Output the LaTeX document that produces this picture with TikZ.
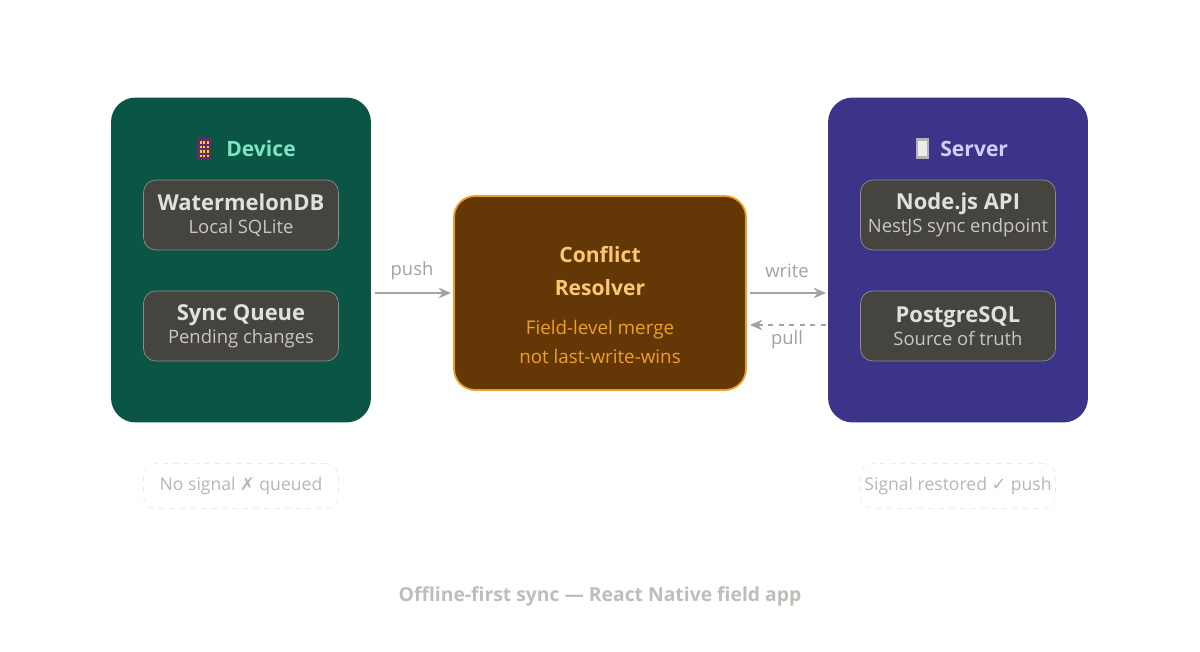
\documentclass[tikz,border=0pt]{standalone}
\usepackage{fontspec}
\setmainfont{Open Sans}
\newfontfamily\symfont{DejaVu Sans}
\usetikzlibrary{arrows.meta, positioning}
\definecolor{devfill}{HTML}{0B5545}
\definecolor{devtext}{HTML}{7FE3C3}
\definecolor{srvfill}{HTML}{3C3489}
\definecolor{srvtext}{HTML}{D2CEF6}
\definecolor{cellfill}{HTML}{45443F}
\definecolor{celledge}{HTML}{8E8D86}
\definecolor{celltext}{HTML}{E2E0DA}
\definecolor{cellsub}{HTML}{C9C7C0}
\definecolor{resfill}{HTML}{633806}
\definecolor{resedge}{HTML}{EF9F27}
\definecolor{restext}{HTML}{FAC775}
\definecolor{gr}{HTML}{A3A29C}
\definecolor{note}{HTML}{B8B6AF}
\definecolor{notedge}{HTML}{EDEBE6}

\begin{document}
\begin{tikzpicture}[
            x = 0.02cm, y = -0.02cm,
            >= {Stealth[length=7pt, width=6pt]}, % arrow head style
            group/.style = {draw = none, rounded corners = 14pt, minimum width = 5.2cm, minimum height = 6.5cm},
            cell/.style = {draw = celledge, fill = cellfill, rounded corners = 7pt, minimum width = 3.9cm, minimum height = 1.4cm, inner sep = 0pt, align = center, text = celltext},
            note/.style = {draw = notedge, dashed, rounded corners = 7pt, minimum width = 3.9cm, minimum height = 0.9cm, inner xsep = 0pt, text = note, font = \fontsize{10}{12}\selectfont},
            link/.style = {->, draw = gr, line width = 1.3pt},
            lbl/.style = {text = gr, font = \fontsize{10.5}{13}\selectfont}
        ]

        \useasboundingbox (0, 0) rectangle (1200, 652);

        % containers
        \node[group, fill = devfill] (device) at (241, 260) {};
        \node[group, fill = srvfill] (server) at (958, 260) {};
        \node[draw = resedge, fill = resfill, line width = 1pt, rounded corners = 12pt, minimum width = 5.84cm, minimum height = 3.88cm] (resolver) at (600, 293) {};

        % headers
        \node[text = devtext, font = \fontsize{12}{14}\selectfont\bfseries, anchor = west, inner xsep = 0pt] (devhead) at (226, 149) {Device};
        \fill[srvfill!80!red] (197, 138) rectangle (211, 160);
        \foreach \i in {0, 1, 2} \foreach \j in {0, 1, 2, 3}
            \fill[yellow!70!orange] (199.5 + 3.5*\i, 141 + 4.5*\j) rectangle ++(2, 2.5);
        \node[text = srvtext, font = \fontsize{12}{14}\selectfont\bfseries, anchor = west, inner xsep = 0pt] (srvhead) at (940, 149) {Server};
        \fill[gray!60] (916, 138) rectangle (929, 159);
        \fill[white!85!gray] (918, 141) rectangle (927, 156);

        % cells
        \node[cell] (melon) at (241, 215) {{\fontsize{12.5}{15}\selectfont\bfseries WatermelonDB}\\[1pt]{\fontsize{10.5}{13}\selectfont\color{cellsub}Local SQLite}};
        \node[cell] (queue) at (241, 326) {{\fontsize{12.5}{15}\selectfont\bfseries Sync Queue}\\[1pt]{\fontsize{10.5}{13}\selectfont\color{cellsub}Pending changes}};
        \node[cell] (api) at (958, 215) {{\fontsize{12.5}{15}\selectfont\bfseries Node.js API}\\[1pt]{\fontsize{10.5}{13}\selectfont\color{cellsub}NestJS sync endpoint}};
        \node[cell] (pg) at (958, 326) {{\fontsize{12.5}{15}\selectfont\bfseries PostgreSQL}\\[1pt]{\fontsize{10.5}{13}\selectfont\color{cellsub}Source of truth}};

        \node[text = restext, font = \fontsize{12}{14}\selectfont\bfseries, align = center] (restitle) at (600, 271) {Conflict\\[5pt]Resolver};
        \node[text = resedge, font = \fontsize{10.7}{13}\selectfont, align = center] (ressub) at (600, 342) {Field-level merge\\[4pt]not last-write-wins};

        % connectors
        \coordinate (pushA) at (375, 293);
        \coordinate (pushB) at (451, 293);
        \coordinate (writeA) at (750, 293);
        \coordinate (writeB) at (826, 293);
        \coordinate (pullA) at (826, 325);
        \coordinate (pullB) at (750, 325);
        \draw[link] (pushA) -- (pushB);
        \draw[link] (writeA) -- (writeB);
        \draw[link, dashed] (pullA) -- (pullB);
        \node[lbl] (pushlbl) at (412, 271) {push};
        \node[lbl] (writelbl) at (787, 271) {write};
        \node[lbl] (pulllbl) at (787, 340) {pull};

        % notes
        \node[note] (offline) at (241, 486) {\raisebox{-5pt}{No signal {\symfont ✗} queued}};
        \node[note] (online) at (958, 486) {\raisebox{-5pt}{Signal restored {\symfont ✓} push}};

        \node[text = note!90!white, font = \fontsize{11}{13}\selectfont\bfseries] (caption) at (600, 596) {Offline-first sync — React Native field app};
    \end{tikzpicture}
\end{document}
